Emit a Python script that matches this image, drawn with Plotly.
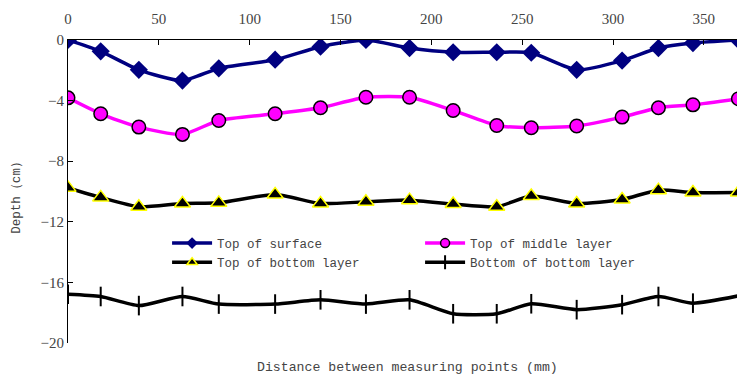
import plotly.graph_objects as go

distance = [0, 18, 39, 63, 83, 114, 139, 164, 188, 212, 236, 255, 280, 305, 325, 344, 369]
top_surface = [0, -0.75, -1.97, -2.68, -1.87, -1.30, -0.44, 0.0, -0.53, -0.81, -0.81, -0.84, -1.97, -1.36, -0.53, -0.20, 0.0]
top_middle = [-3.82, -4.87, -5.75, -6.23, -5.31, -4.87, -4.47, -3.78, -3.78, -4.65, -5.64, -5.79, -5.68, -5.09, -4.47, -4.28, -3.88]
top_bottom = [-9.76, -10.39, -11.01, -10.79, -10.75, -10.20, -10.79, -10.68, -10.57, -10.83, -11.01, -10.30, -10.79, -10.53, -9.91, -10.07, -10.07]
bottom_bottom = [-16.78, -16.93, -17.53, -16.93, -17.43, -17.43, -17.15, -17.43, -17.15, -18.07, -18.07, -17.41, -17.80, -17.47, -16.93, -17.37, -16.89]

x_ticks = [0, 50, 100, 150, 200, 250, 300, 350]
y_ticks = [0, -4, -8, -12, -16, -20]
names = ["Top of surface", "Top of middle layer", "Top of bottom layer", "Bottom of bottom layer"]

styles = [
    dict(color="#000080", symbol="diamond", size=14, mcolor="#000080", mline=dict(width=0), lsize=9),
    dict(color="#FF00FF", symbol="circle", size=13.5, mcolor="#FF00FF", mline=dict(color="black", width=1.5), lsize=9),
    dict(color="black", symbol="triangle-up", size=14, mcolor="black", mline=dict(color="#FFFF00", width=1.5), lsize=9),
    dict(color="black", symbol="line-ns", size=14, mcolor="black", mline=dict(color="black", width=2), lsize=10),
]
series = [top_surface, top_middle, top_bottom, bottom_bottom]

fig = go.Figure()
for name, ys, st in zip(names, series, styles):
    fig.add_trace(go.Scatter(x=distance, y=ys, name=name, mode="lines+markers", showlegend=False,
                             line=dict(color=st["color"], width=3.5, shape="spline", smoothing=0.6),
                             marker=dict(symbol=st["symbol"], size=st["size"], color=st["mcolor"], line=st["mline"])))
for name, st in zip(names, styles):
    fig.add_trace(go.Scatter(x=[None], y=[None], name=name, mode="lines+markers", showlegend=True,
                             line=dict(color=st["color"], width=3.5),
                             marker=dict(symbol=st["symbol"], size=st["lsize"], color=st["mcolor"], line=st["mline"])))

tick_font = dict(family="Liberation Serif", size=15, color="#444444")
mono = "Liberation Mono"

fig.update_layout(
    width=737, height=369,
    margin=dict(l=60, r=3, t=32, b=34, autoexpand=False),
    paper_bgcolor="white", plot_bgcolor="white",
    showlegend=True,
    legend=dict(orientation="h", x=0.147, y=0.378, xanchor="left", yanchor="top",
                entrywidth=198, entrywidthmode="pixels",
                font=dict(family=mono, size=12.5, color="#444444"),
                bgcolor="rgba(0,0,0,0)", tracegroupgap=0, itemwidth=40),
    xaxis=dict(range=[0, 371], side="top", tickvals=x_ticks, ticks="inside", ticklen=5,
               tickcolor="black", showline=True, linecolor="black", linewidth=1, automargin=False,
               ticklabelstandoff=9,
               showgrid=False, zeroline=False, tickfont=tick_font),
    yaxis=dict(range=[-20, 0], tickvals=y_ticks, ticks="inside", ticklen=5, automargin=False,
               tickcolor="black", showline=True, linecolor="black", linewidth=1,
               showgrid=False, zeroline=False, tickfont=tick_font),
    annotations=[
        dict(text="Distance between measuring points (mm)", xref="paper", yref="paper",
             x=0.503, y=-0.082, xanchor="center", yanchor="middle", showarrow=False,
             font=dict(family=mono, size=13.2, color="#444444")),
        dict(text="Depth（cm）", xref="paper", yref="paper", x=-0.077, y=0.49,
             xanchor="center", yanchor="middle", textangle=-90, showarrow=False,
             font=dict(family=mono, size=12.5, color="#444444")),
    ],
)

fig.write_html("out.html")
